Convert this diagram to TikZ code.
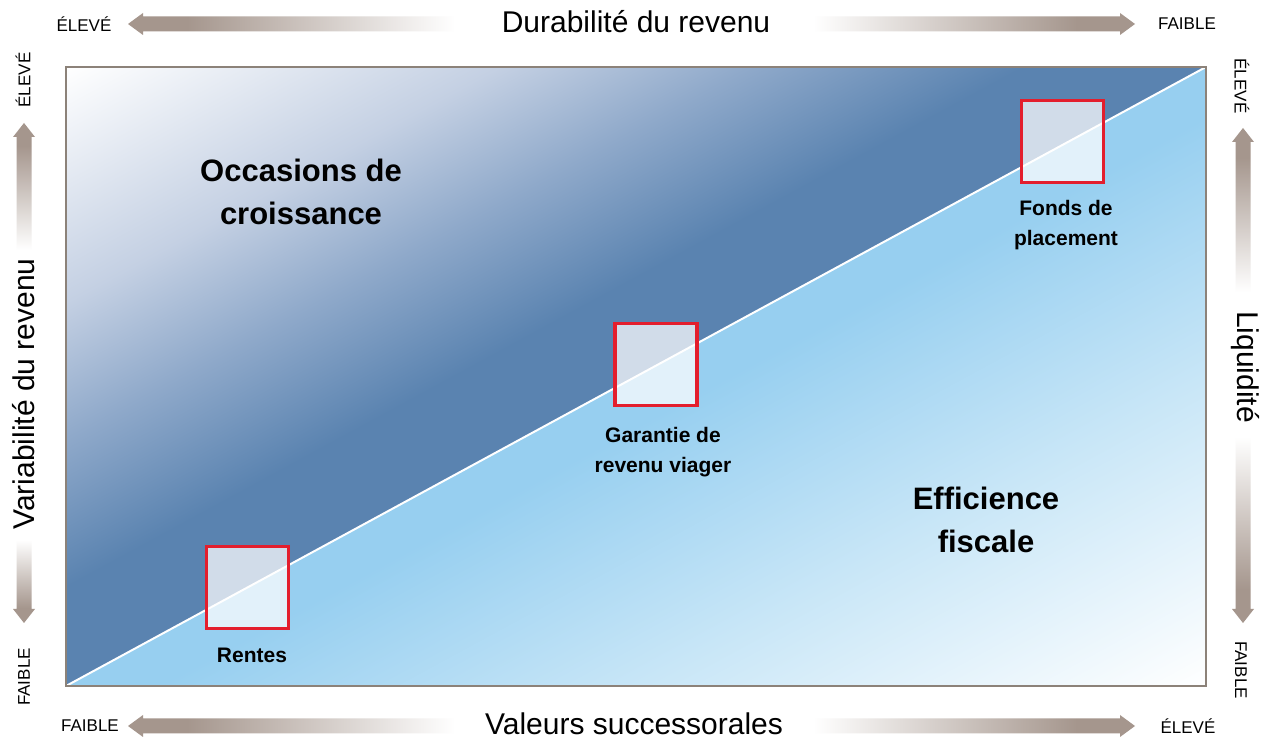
\documentclass[tikz,border=0pt]{standalone}
\usepackage{fontspec}
\setmainfont{Liberation Sans}
\definecolor{dkblue}{HTML}{5A83B0}
\definecolor{midblue}{HTML}{8FA9CA}
\definecolor{paleblue}{HTML}{C4D0E3}
\definecolor{skyblue}{HTML}{97CFF0}
\definecolor{skypale}{HTML}{C8E6F7}
\definecolor{arrbrown}{HTML}{A5968D}
\definecolor{framecol}{HTML}{8C8279}
\definecolor{boxred}{HTML}{E31E2D}
\pgfdeclareverticalshading{upperfade}{100bp}{color(0bp)=(dkblue); color(25bp)=(dkblue); color(33bp)=(dkblue); color(45bp)=(midblue); color(56bp)=(paleblue); color(75bp)=(white); color(100bp)=(white)}
\pgfdeclareverticalshading{lowerfade}{100bp}{color(0bp)=(white); color(25bp)=(white); color(50bp)=(skypale); color(71bp)=(skyblue); color(100bp)=(skyblue)}
\pgfdeclarehorizontalshading{arrfade}{100bp}{color(0bp)=(arrbrown); color(25bp)=(arrbrown); color(34bp)=(arrbrown); color(75bp)=(white); color(100bp)=(white)}
\begin{document}
\begin{tikzpicture}[x=1pt,y=1pt,
  axislab/.style={font=\fontsize{30}{36}\selectfont, inner sep=0pt},
  endlab/.style={font=\fontsize{17}{20}\selectfont, inner sep=0pt},
  zonelab/.style={font=\fontsize{31}{43}\selectfont\bfseries, align=center, inner sep=0pt},
  itemlab/.style={font=\fontsize{21}{30}\selectfont\bfseries, align=center, inner sep=0pt},
  prodbox/.style={draw=boxred, line width=3.5pt, fill=white, fill opacity=0.72, minimum size=82pt, inner sep=0pt},
  fadearrow/.style={shading=arrfade}]
\useasboundingbox[fill=white] (0,0) rectangle (1264,739);

% upper-left zone
\begin{scope}
  \clip (66,53) -- (1206,672) -- (66,672) -- cycle;
  \begin{scope}[transform canvas={shift={(66,53)},rotate=28.5}]
    \shade[shading=upperfade] (-300,0) rectangle (1700,544);
  \end{scope}
\end{scope}
% lower-right zone
\begin{scope}
  \clip (66,53) -- (1206,53) -- (1206,672) -- cycle;
  \begin{scope}[transform canvas={shift={(66,53)},rotate=28.5}]
    \shade[shading=lowerfade] (-300,-544) rectangle (1700,0);
  \end{scope}
\end{scope}

\coordinate (dA) at (66,53);
\coordinate (dB) at (1206,672);
\draw[white, line width=2pt] (dA) -- (dB);
\draw[framecol, line width=1.5pt] (66,53) rectangle (1206,672);

% boxes and labels
\node[prodbox] (b1) at (247.5,151.5) {};
\node[prodbox] (b2) at (656,374.5) {};
\node[prodbox] (b3) at (1062.5,597.5) {};
\node[itemlab] (t1) at (252,84) {Rentes};
\node[itemlab] (t2) at (663,287) {Garantie de\\revenu viager};
\node[itemlab] (t3) at (1066,514) {Fonds de\\placement};
\node[zonelab] (z1) at (301,547) {Occasions de\\croissance};
\node[zonelab] (z2) at (986,219) {Efficience\\fiscale};

% top axis
\shade[fadearrow] (128,715) -- (143,726) -- (143,722.5) -- (455,722.5) -- (455,707.5) -- (143,707.5) -- (143,704) -- cycle;
\shade[fadearrow, shading angle=180] (1135,715) -- (1120,726) -- (1120,722.5) -- (813,722.5) -- (813,707.5) -- (1120,707.5) -- (1120,704) -- cycle;
\node[endlab] (tl) at (84,715) {ÉLEVÉ};
\node[endlab] (tr) at (1187,715) {FAIBLE};
\node[axislab] (tt) at (636,717) {Durabilité du revenu};

% bottom axis
\shade[fadearrow] (128,13) -- (143,24) -- (143,20.5) -- (455,20.5) -- (455,5.5) -- (143,5.5) -- (143,2) -- cycle;
\shade[fadearrow, shading angle=180] (1135,13) -- (1120,24) -- (1120,20.5) -- (813,20.5) -- (813,5.5) -- (1120,5.5) -- (1120,2) -- cycle;
\node[endlab] (bl) at (90,13) {FAIBLE};
\node[endlab] (br) at (1188,13) {ÉLEVÉ};
\node[axislab] (bt) at (634,15) {Valeurs successorales};

% left axis
\shade[fadearrow, shading angle=270] (24,616) -- (35,602) -- (31.5,602) -- (31.5,489) -- (16.5,489) -- (16.5,602) -- (13,602) -- cycle;
\shade[fadearrow, shading angle=90] (24,116) -- (35,130) -- (31.5,130) -- (31.5,199) -- (16.5,199) -- (16.5,130) -- (13,130) -- cycle;
\node[endlab, rotate=90] (lt) at (23,659) {ÉLEVÉ};
\node[endlab, rotate=90] (lb) at (24,62) {FAIBLE};
\node[axislab, rotate=90] (lm) at (24,345) {Variabilité du revenu};

% right axis
\shade[fadearrow, shading angle=270] (1243,611) -- (1254,597) -- (1250.5,597) -- (1250.5,447) -- (1235.5,447) -- (1235.5,597) -- (1232,597) -- cycle;
\shade[fadearrow, shading angle=90] (1243,116) -- (1254,130) -- (1250.5,130) -- (1250.5,302) -- (1235.5,302) -- (1235.5,130) -- (1232,130) -- cycle;
\node[endlab, rotate=-90] (rt) at (1242,653) {ÉLEVÉ};
\node[endlab, rotate=-90] (rb) at (1241,69) {FAIBLE};
\node[axislab, rotate=-90] (rm) at (1245,372) {Liquidité};
\end{tikzpicture}
\end{document}
